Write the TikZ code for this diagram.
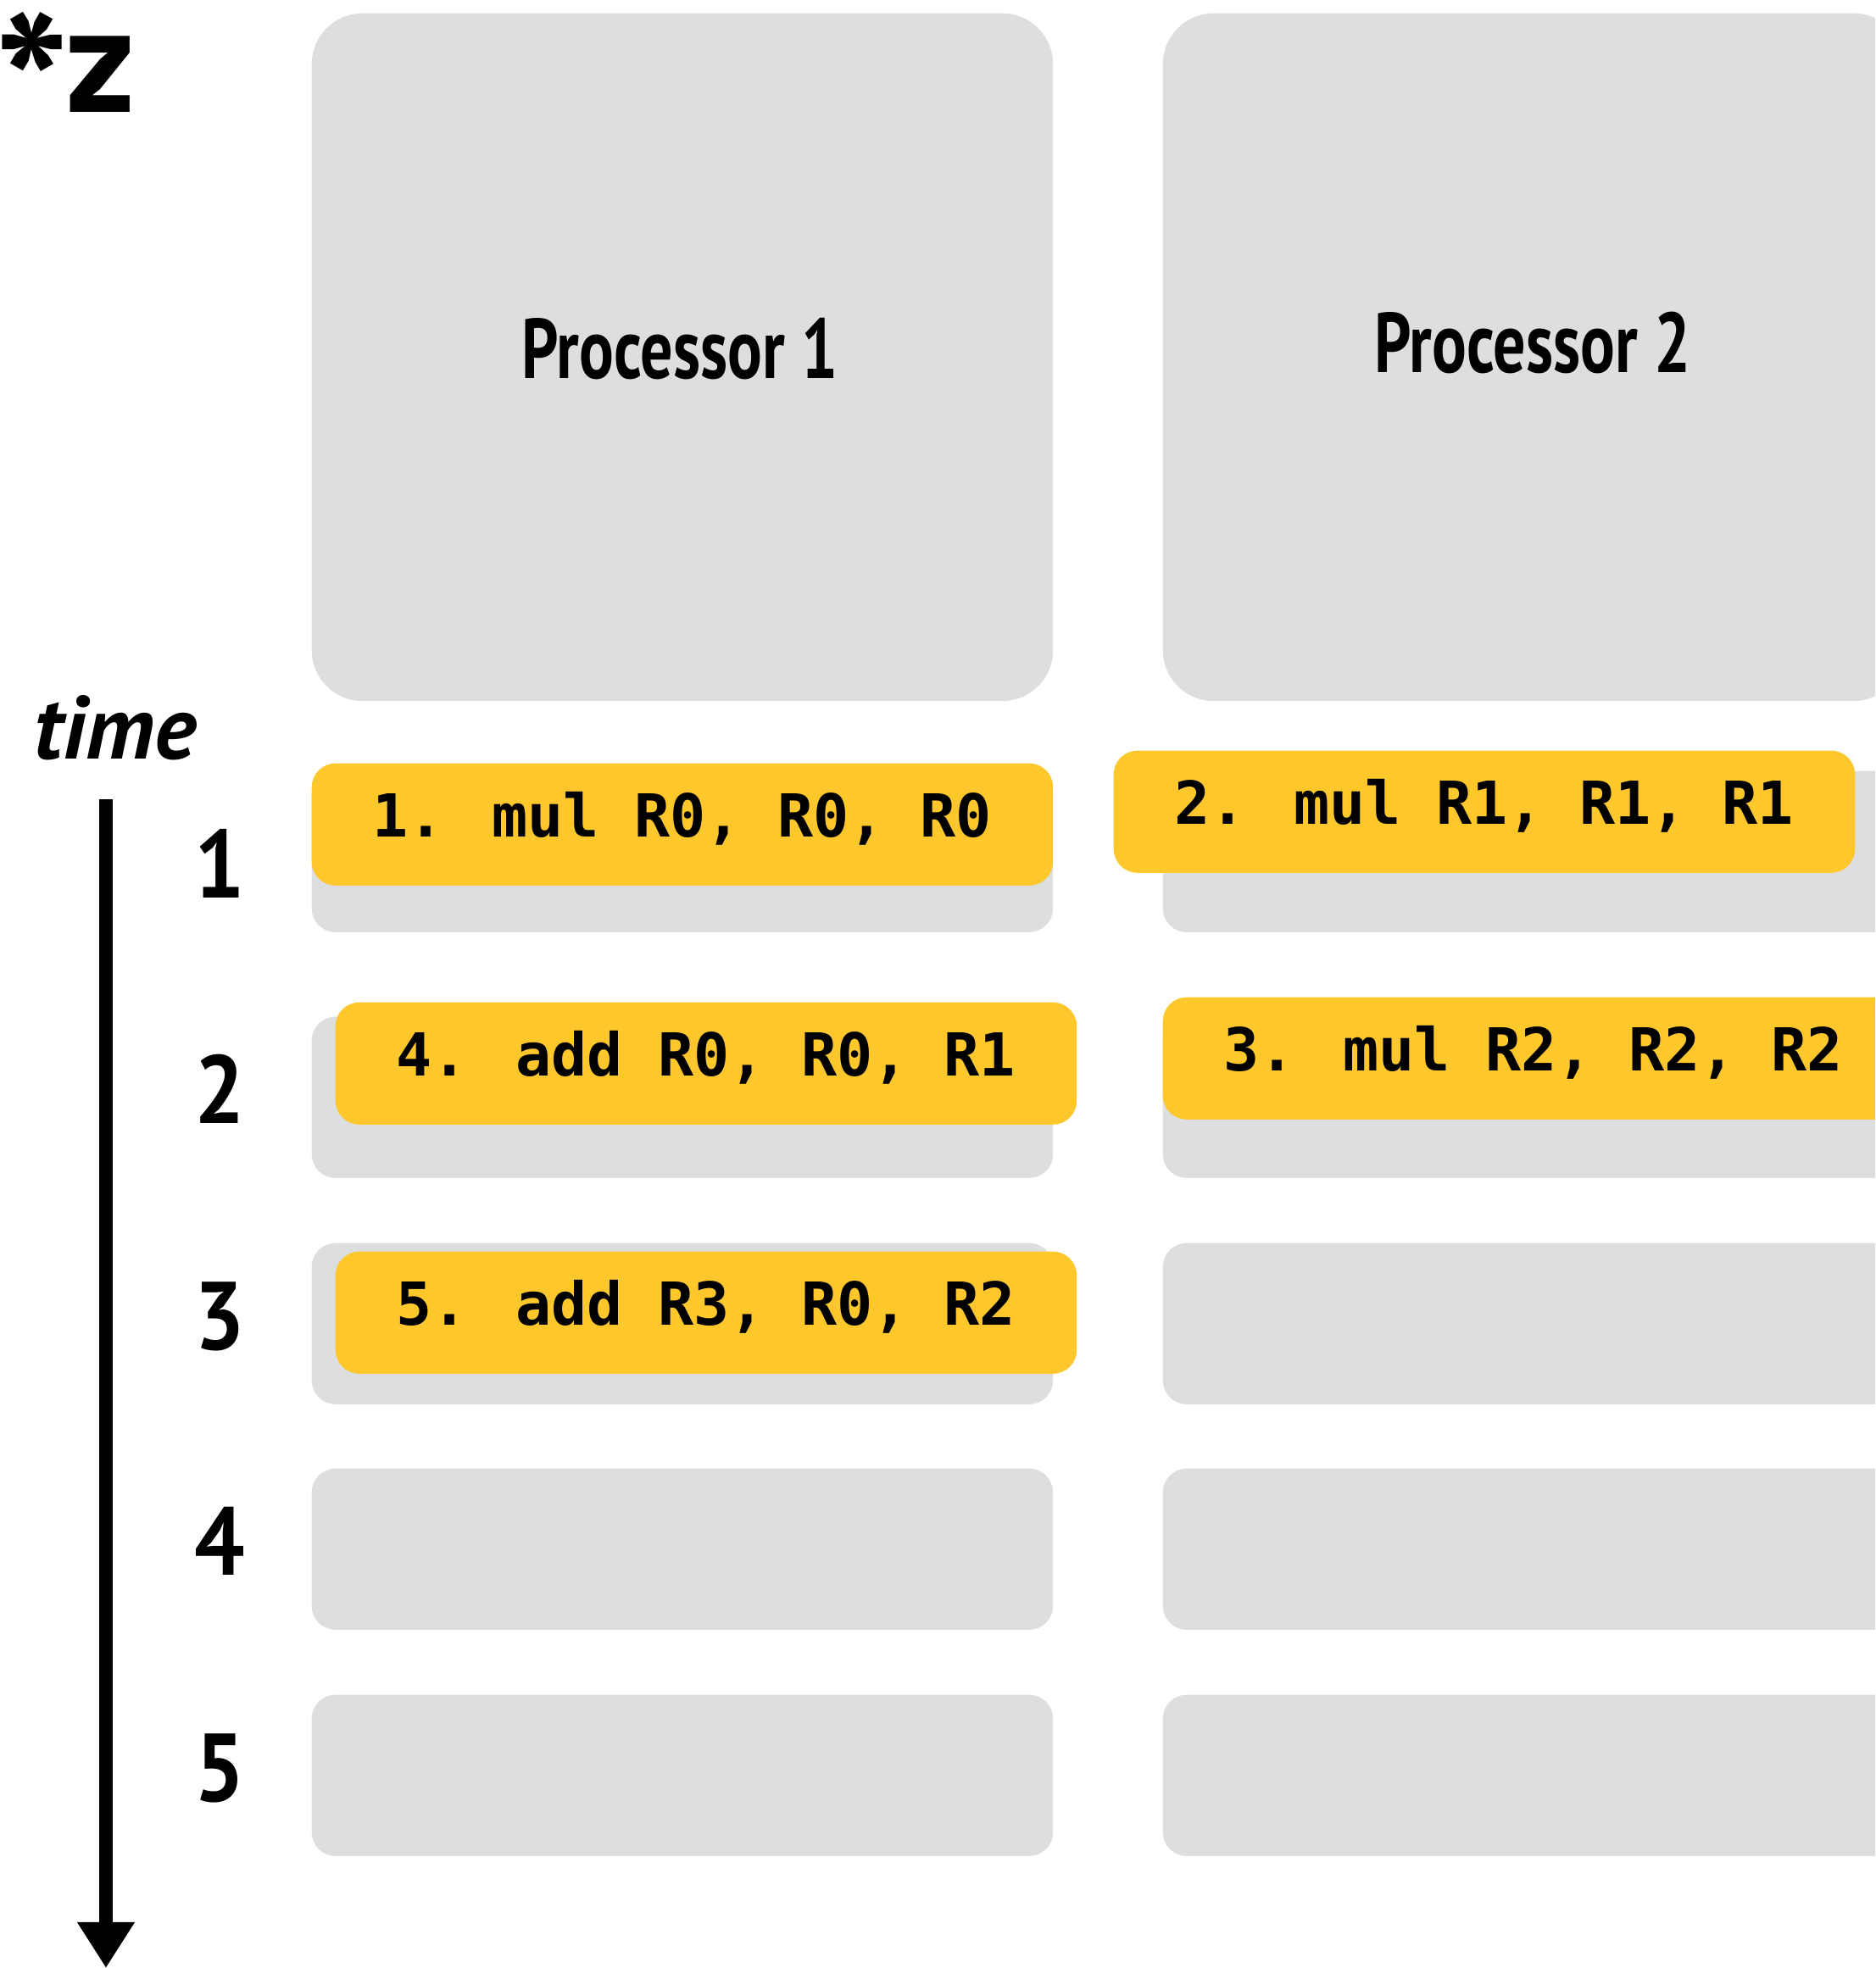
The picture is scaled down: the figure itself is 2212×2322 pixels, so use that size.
\documentclass[tikz,border=0pt]{standalone}
\usepackage{fontspec}
\setmainfont{PT Sans}
\newfontfamily\condfont[FakeStretch=0.76]{PT Sans}
\newfontfamily\digitfont[FakeStretch=0.92]{PT Sans}
\newfontfamily\codefont{DejaVu Sans Mono}
\usetikzlibrary{arrows.meta}

\definecolor{slotgrey}{RGB}{221,222,224}
\definecolor{instyellow}{RGB}{254,199,44}

\tikzset{
  procbox/.style={fill=slotgrey, rounded corners=0.6cm, anchor=north west,
    minimum width=8.74cm, minimum height=8.11cm, inner sep=0pt},
  slotbox/.style={fill=slotgrey, rounded corners=0.28cm, anchor=north west,
    minimum width=8.74cm, minimum height=1.9cm, inner sep=0pt},
  instbox/.style={fill=instyellow, rounded corners=0.28cm, anchor=north west,
    minimum width=8.74cm, inner sep=0pt, text height=0.87cm, text depth=0.57cm,
    font={\codefont\bfseries\fontsize{19.9pt}{20pt}\selectfont}},
  proclabel/.style={anchor=base, inner sep=0pt,
    font={\condfont\bfseries\fontsize{28.45pt}{30pt}\selectfont}},
  steplabel/.style={anchor=base, inner sep=0pt,
    font={\digitfont\bfseries\fontsize{32.4pt}{34pt}\selectfont}},
}

\begin{document}
\begin{tikzpicture}[x=0.01cm, y=-0.01cm]
\useasboundingbox (0,0) rectangle (2212,2322);
\clip (0,0) rectangle (2212,2322);

% processors
\node[procbox] (p1) at (367,15) {};
\node[procbox] (p2) at (1371,15) {};
\node[proclabel] (p1l) at (802,447) {Processor 1};
\node[proclabel] (p2l) at (1808,440) {Processor 2};

% time slots, left column
\node[slotbox] (a1) at (367,909) {};
\node[slotbox] (a2) at (367,1199) {};
\node[slotbox] (a3) at (367,1466) {};
\node[slotbox] (a4) at (367,1732) {};
\node[slotbox] (a5) at (367,1999) {};
% time slots, right column
\node[slotbox] (b1) at (1371,909) {};
\node[slotbox] (b2) at (1371,1199) {};
\node[slotbox] (b3) at (1371,1466) {};
\node[slotbox] (b4) at (1371,1732) {};
\node[slotbox] (b5) at (1371,1999) {};

% scheduled instructions
\node[instbox] (i1) at (367,900)  {1. mul R0, R0, R0};
\node[instbox] (i2) at (1313,885) {2. mul R1, R1, R1};
\node[instbox] (i3) at (1371,1176) {3. mul R2, R2, R2};
\node[instbox] (i4) at (395,1182) {4. add R0, R0, R1};
\node[instbox] (i5) at (395,1476) {5. add R3, R0, R2};

% time axis
\node[anchor=base west, inner sep=0pt,
  font={\bfseries\itshape\fontsize{30pt}{32pt}\selectfont}] (tl) at (40,895) {time};
\node[anchor=base, inner sep=0pt,
  font={\bfseries\fontsize{67pt}{67pt}\selectfont}] (ast) at (38,187) {*};
\node[anchor=base east, inner sep=0pt,
  font={\bfseries\fontsize{51pt}{51pt}\selectfont}] (zl) at (160,133) {z};
\coordinate (ttop) at (125,943);
\coordinate (tbot) at (125,2322);
\draw[line width=0.16cm, -{Triangle[width=0.64cm,length=0.54cm]}] (ttop) -- (tbot);

\node[steplabel] (s1) at (259,1059) {1};
\node[steplabel] (s2) at (259,1325) {2};
\node[steplabel] (s3) at (259,1592) {3};
\node[steplabel] (s4) at (259,1858) {4};
\node[steplabel] (s5) at (259,2125) {5};
\end{tikzpicture}
\end{document}
